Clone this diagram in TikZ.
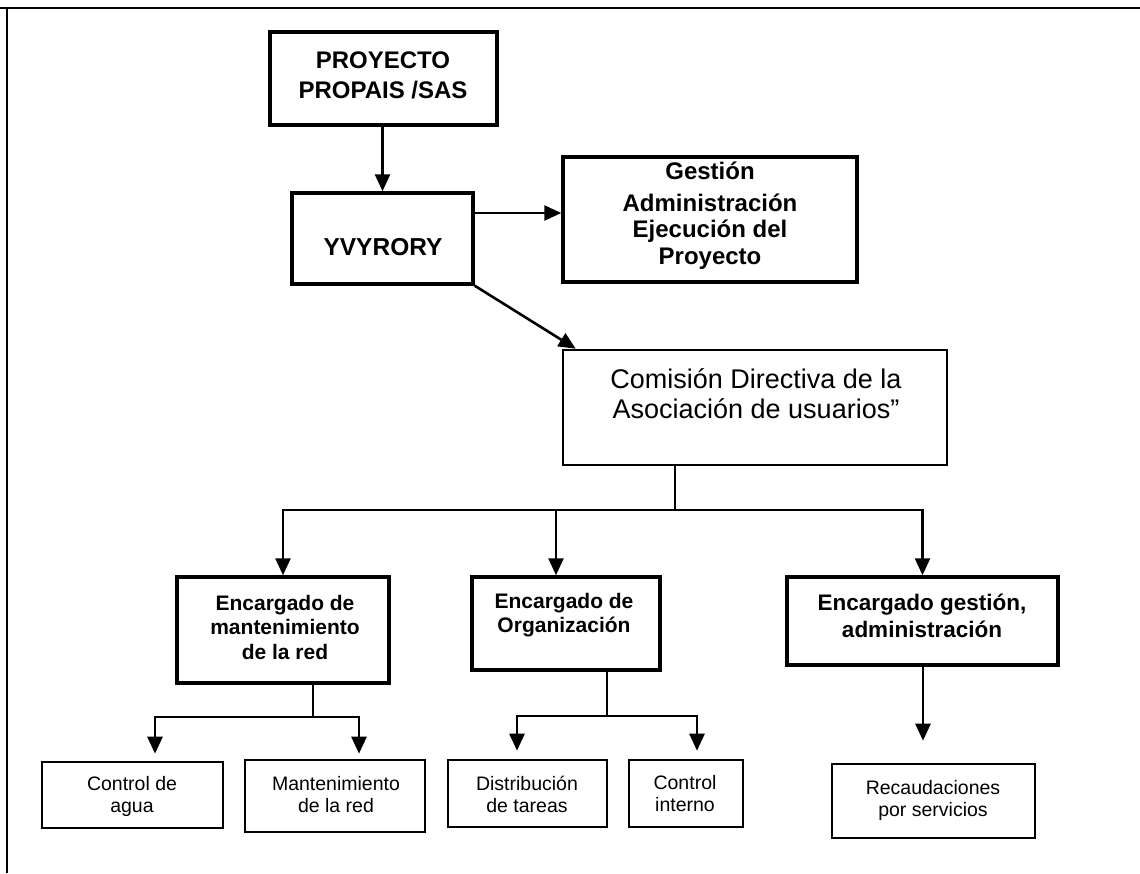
\documentclass[tikz,border=0pt]{standalone}
\usepackage{fontspec}
\setmainfont{Liberation Sans}
\usetikzlibrary{arrows.meta,calc}
\begin{document}
\begin{tikzpicture}[x=1pt,y=-1pt,
  bx/.style={draw, line width=3.5pt, inner sep=0pt},
  tbx/.style={draw, line width=2.6pt, inner sep=0pt},
  arr/.style={line width=2.6pt, -{Triangle[length=17pt,width=15pt]}},
  ln/.style={line width=2.6pt},
  frm/.style={line width=2.5pt},
  txt/.style={align=center, inner sep=0pt},
  bigb/.style={txt, font=\fontsize{24}{30}\selectfont\bfseries},
  yvb/.style={txt, font=\fontsize{24.5}{28}\selectfont\bfseries},
  gesb/.style={txt, font=\fontsize{24}{26.5}\selectfont\bfseries},
  comr/.style={txt, font=\fontsize{27}{30}\selectfont},
  encb/.style={txt, font=\fontsize{21}{24.5}\selectfont\bfseries},
  encg/.style={txt, font=\fontsize{22.5}{27}\selectfont\bfseries},
  smr/.style={txt, font=\fontsize{19.5}{22}\selectfont}
]
\useasboundingbox (0,0) rectangle (1140,873);
% frame
\coordinate (f0) at (7,8);
\coordinate (f1) at (1140,8);
\coordinate (f2) at (7,873);
\draw[frm] (0,8) -- (f1);
\draw[frm] (f0) -- (f2);

% boxes
\node[bx, minimum width=227pt, minimum height=93pt] (p) at (383.5,78.5) {};
\node[bx, minimum width=181pt, minimum height=91pt] (y) at (382.5,238.5) {};
\node[bx, minimum width=294pt, minimum height=125pt] (g) at (710,219.5) {};
\node[tbx, minimum width=384pt, minimum height=115pt] (c) at (755,407.5) {};
\node[bx, minimum width=212pt, minimum height=106pt] (m) at (283,630) {};
\node[bx, minimum width=188pt, minimum height=93pt] (o) at (566,623.5) {};
\node[bx, minimum width=271pt, minimum height=88pt] (ge) at (922.5,621) {};
\node[tbx, minimum width=181pt, minimum height=66pt] (ca) at (132.5,795) {};
\node[tbx, minimum width=180pt, minimum height=72pt] (mr) at (335,796) {};
\node[tbx, minimum width=159pt, minimum height=67pt] (db) at (527.5,793.5) {};
\node[tbx, minimum width=114pt, minimum height=67pt] (ci) at (686,793.5) {};
\node[tbx, minimum width=203pt, minimum height=74pt] (rc) at (933.5,801) {};

% texts
\node[bigb] (tp) at (383,75) {PROYECTO\\PROPAIS /SAS};
\node[yvb] (ty) at (383,247) {YVYRORY};
\node[gesb] (tg) at (710,215.5) {Gestión\\[5pt]Administración\\Ejecución del\\Proyecto};
\node[comr] (tc) at (756,394) {Comisión Directiva de la\\Asociación de usuarios”};
\node[encb] (tm) at (285,627) {Encargado de\\mantenimiento\\de la red};
\node[encb] (to) at (564,615) {Encargado de\\Organización};
\node[encg] (tge) at (922,616) {Encargado gestión,\\administración};
\node[smr] (tca) at (132,796) {Control de\\agua};
\node[smr] (tmr) at (336,795) {Mantenimiento\\de la red};
\node[smr] (tdb) at (527,794) {Distribución\\de tareas};
\node[smr] (tci) at (685,794) {Control\\interno};
\node[smr] (trc) at (933,800) {Recaudaciones\\por servicios};

% connectors
\draw[arr] (y.north |- p.south) -- (y.north);
\coordinate (ye) at ($(y.east)+(0,-25.5)$);
\draw[arr] (ye) -- (ye -| g.west);
\draw[arr] (y.south east) -- ($(c.north west)+(14,0)$);

\coordinate (jn) at (675,510);
\coordinate (on) at ($(o.north)+(-10,0)$);
\draw[ln] (jn |- c.south) -- (jn);
\draw[arr] (jn) -| (m.north);
\draw[arr] (jn) -| (ge.north);
\draw[arr] (on |- jn) -- (on);

\coordinate (mj) at (313,717);
\coordinate (cat) at ($(ca.north)+(22.5,-7)$);
\coordinate (mrt) at ($(mr.north)+(24,-5)$);
\draw[ln] (mj |- m.south) -- (mj);
\draw[arr] (mj) -| (cat);
\draw[arr] (mj) -| (mrt);

\coordinate (oj) at (607,716);
\coordinate (dbt) at ($(db.north)+(-10.5,-8)$);
\coordinate (cit) at ($(ci.north)+(11,-8)$);
\draw[ln] (oj |- o.south) -- (oj);
\draw[arr] (oj) -| (dbt);
\draw[arr] (oj) -| (cit);

\coordinate (gt) at ($(rc.north)+(-10.5,-22)$);
\draw[arr] (gt |- ge.south) -- (gt);
\end{tikzpicture}
\end{document}
